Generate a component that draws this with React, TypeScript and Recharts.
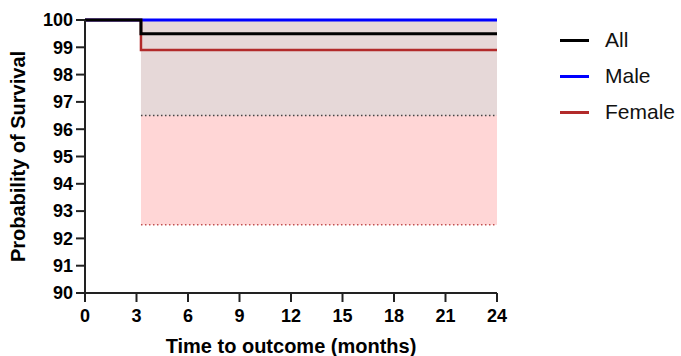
import { ComposedChart, Line, Area, XAxis, YAxis } from "recharts";

const months = [0, 3.26, 24];
const allSurvival = [100, 99.5, 99.5];
const maleSurvival = [100, 100, 100];
const femaleSurvival = [100, 98.9, 98.9];
const allUpper = [null, 100, 100];
const allLower = [null, 96.5, 96.5];
const femaleUpper = [null, 100, 100];
const femaleLower = [null, 92.5, 92.5];

const xTicks = [0, 3, 6, 9, 12, 15, 18, 21, 24];
const yTicks = [90, 91, 92, 93, 94, 95, 96, 97, 98, 99, 100];

const legendItems = [
  { name: "All", color: "#000000" },
  { name: "Male", color: "#0000ff" },
  { name: "Female", color: "#b22a2a" },
];

const data = months.map((t, i) => ({
  t,
  all: allSurvival[i],
  male: maleSurvival[i],
  female: femaleSurvival[i],
  allLo: allLower[i],
  allHi: allUpper[i],
  femLo: femaleLower[i],
  femHi: femaleUpper[i],
  allBand: allLower[i] == null ? null : [allLower[i], allUpper[i]],
  femBand: femaleLower[i] == null ? null : [femaleLower[i], femaleUpper[i]],
}));

const font = "'Liberation Sans', Arial, Helvetica, sans-serif";
const tickStyle = { fill: "#000", fontSize: 18, fontWeight: 700, fontFamily: font };

export default function App() {
  return (
    <div style={{ position: "absolute", left: 0, top: 0, width: 681, height: 356 }}>
      <ComposedChart
        width={681}
        height={356}
        data={data}
        margin={{ top: 20, right: 184, bottom: 0, left: 0 }}
      >
        <XAxis
          dataKey="t"
          type="number"
          domain={[0, 24]}
          ticks={xTicks}
          height={63}
          tickSize={9}
          tickMargin={7}
          tick={tickStyle}
          stroke="#222"
          strokeWidth={2}
          label={{
            value: "Time to outcome (months)",
            position: "insideBottom",
            offset: 3,
            style: { fill: "#000", fontSize: 20, fontWeight: 700, fontFamily: font },
          }}
        />
        <YAxis
          type="number"
          domain={[90, 100]}
          ticks={yTicks}
          width={85}
          tickSize={9}
          tickMargin={3}
          tick={tickStyle}
          stroke="#222"
          strokeWidth={2}
          interval={0}
          label={{
            value: "Probability of Survival",
            angle: -90,
            position: "insideLeft",
            offset: 18,
            style: {
              fill: "#000",
              fontSize: 20,
              fontWeight: 700,
              fontFamily: font,
              textAnchor: "middle",
            },
          }}
        />
        <Area
          type="stepAfter"
          dataKey="femBand"
          fill="#ffd6d6"
          fillOpacity={1}
          stroke="none"
          isAnimationActive={false}
        />
        <Area
          type="stepAfter"
          dataKey="allBand"
          fill="#e6d8d8"
          fillOpacity={1}
          stroke="none"
          isAnimationActive={false}
        />
        <Line type="stepAfter" dataKey="femLo" stroke="#c25050" strokeWidth={1.5} strokeDasharray="1.5 2.5" dot={false} isAnimationActive={false} />
        <Line type="stepAfter" dataKey="allLo" stroke="#444" strokeWidth={1.5} strokeDasharray="1.5 2.5" dot={false} isAnimationActive={false} />
        <Line type="stepAfter" dataKey="femHi" stroke="#c98080" strokeWidth={1.5} strokeDasharray="1.5 2.5" dot={false} isAnimationActive={false} />
        <Line type="stepAfter" dataKey="allHi" stroke="#888" strokeWidth={1.5} strokeDasharray="1.5 2.5" dot={false} isAnimationActive={false} />
        <Line type="stepAfter" dataKey="male" stroke="#0000ff" strokeWidth={3} dot={false} isAnimationActive={false} />
        <Line type="stepAfter" dataKey="female" stroke="#b22a2a" strokeWidth={2.5} dot={false} isAnimationActive={false} />
        <Line type="stepAfter" dataKey="all" stroke="#000" strokeWidth={3} dot={false} isAnimationActive={false} />
      </ComposedChart>
      <div style={{ position: "absolute", left: 560, top: 22, fontFamily: font, fontSize: 21, color: "#111" }}>
        {legendItems.map((it) => (
          <div key={it.name} style={{ display: "flex", alignItems: "center", height: 36 }}>
            <span style={{ display: "inline-block", width: 29, height: 3, background: it.color, marginRight: 16 }} />
            <span>{it.name}</span>
          </div>
        ))}
      </div>
    </div>
  );
}
